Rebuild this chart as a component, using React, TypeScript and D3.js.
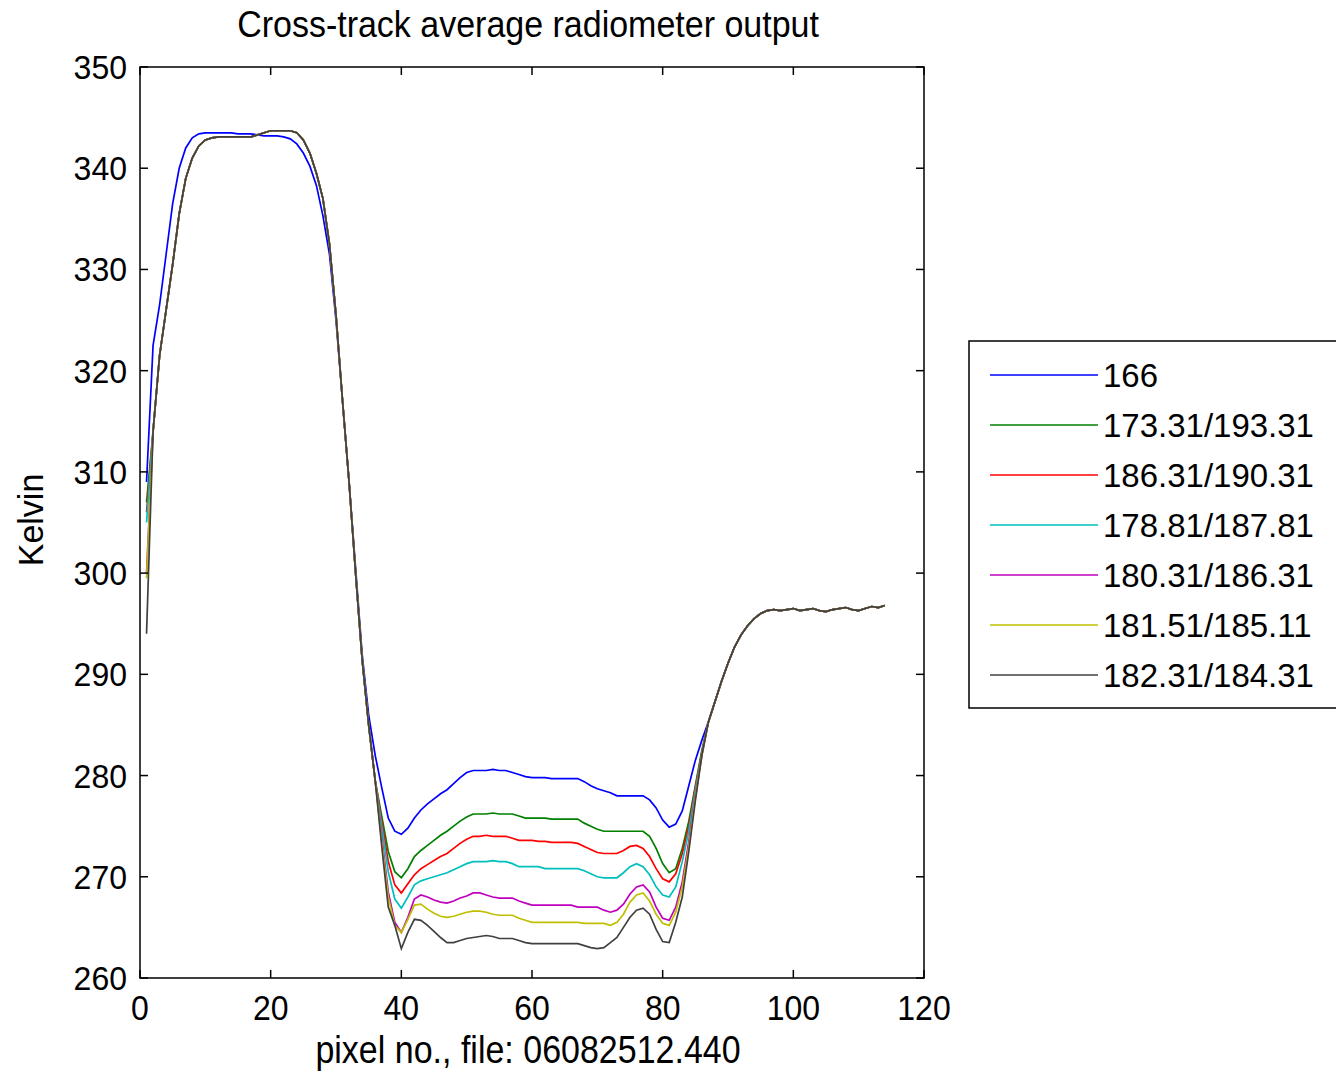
import React from "react";
import * as d3 from "d3";

const W = 1336;
const H = 1076;
const margin = { left: 140, top: 67, right: 1336 - 924, bottom: 1076 - 978 };

const titleText = "Cross-track average radiometer output";
const xLabelText = "pixel no., file: 06082512.440";
const yLabelText = "Kelvin";

const xTicks = [0, 20, 40, 60, 80, 100, 120];
const yTicks = [260, 270, 280, 290, 300, 310, 320, 330, 340, 350];

const seriesNames = [
  "166",
  "173.31/193.31",
  "186.31/190.31",
  "178.81/187.81",
  "180.31/186.31",
  "181.51/185.11",
  "182.31/184.31",
];
const seriesColors = ["#0000ff", "#008000", "#ff0000", "#00bfbf", "#bf00bf", "#bfbf00", "#404040"];

// value at pixel 1, per series
const firstValues = [309, 307, 306, 305, 300, 299.5, 294];

// pixels 2..36, blue series
const leftBlue = [
  322.5, 326.5, 331.5, 336.5, 340, 342, 343, 343.4, 343.5, 343.5, 343.5, 343.5, 343.5, 343.4, 343.4, 343.4,
  343.3, 343.2, 343.2, 343.2, 343.1, 342.9, 342.4, 341.5, 340.2, 338.3, 335.3, 331.5, 325, 317, 309, 300.5,
  292, 286, 282,
];
// pixels 2..36, other series
const leftShared = [
  314, 321.5, 326, 330.5, 335.5, 339, 341, 342.2, 342.8, 343.0, 343.1, 343.1, 343.1, 343.1, 343.1, 343.1,
  343.3, 343.5, 343.7, 343.7, 343.7, 343.7, 343.5, 342.8, 341.5, 339.5, 337, 332.5, 325.5, 317, 309, 300,
  291.5, 285, 279.5,
];

// pixels 37..86, per series
const dipBlue = [
  278.8, 275.8, 274.5, 274.2, 274.8, 275.8, 276.6, 277.2, 277.7, 278.2, 278.6, 279.2, 279.8, 280.3, 280.5,
  280.5, 280.5, 280.6, 280.5, 280.5, 280.3, 280.1, 279.9, 279.8, 279.8, 279.8, 279.7, 279.7, 279.7, 279.7,
  279.7, 279.4, 279.0, 278.7, 278.5, 278.3, 278.0, 278.0, 278.0, 278.0, 278.0, 277.6, 276.8, 275.6, 274.9,
  275.2, 276.5, 279, 281.5, 283.5,
];
const dipGreen = [
  276, 272.5, 270.5, 269.9, 270.8, 272.0, 272.6, 273.1, 273.6, 274.1, 274.5, 275.0, 275.5, 275.9, 276.2,
  276.2, 276.2, 276.3, 276.2, 276.2, 276.2, 276.0, 275.8, 275.8, 275.8, 275.8, 275.7, 275.7, 275.7, 275.7,
  275.7, 275.3, 275.0, 274.7, 274.5, 274.5, 274.5, 274.5, 274.5, 274.5, 274.5, 274.0, 272.8, 271.3, 270.4,
  270.8, 272.8, 275.5, 279, 282.5,
];
const dipRed = [
  275.5, 271.5, 269.2, 268.4, 269.3, 270.2, 270.8, 271.2, 271.6, 272.0, 272.3, 272.8, 273.3, 273.7, 274.0,
  274.0, 274.1, 274.0, 274.0, 274.0, 273.8, 273.6, 273.6, 273.6, 273.5, 273.5, 273.4, 273.4, 273.4, 273.4,
  273.3, 273.0, 272.7, 272.4, 272.3, 272.3, 272.3, 272.6, 273.0, 273.1, 272.8, 272.0, 270.8, 269.8, 269.5,
  270.3, 272.3, 275, 278.8, 282.3,
];
const dipCyan = [
  275, 270.5, 267.8, 266.9, 268.0, 269.2, 269.6, 269.8, 270.0, 270.2, 270.4, 270.7, 271.0, 271.3, 271.5,
  271.5, 271.5, 271.6, 271.5, 271.5, 271.3, 271.0, 271.0, 271.0, 271.0, 270.8, 270.8, 270.8, 270.8, 270.8,
  270.8, 270.6, 270.3, 270.0, 269.9, 269.9, 269.9, 270.4, 271.0, 271.3, 271.0, 270.2, 269.0, 268.2, 268.0,
  269.0, 271.5, 274.5, 278.5, 282.2,
];
const dipMagenta = [
  274, 268.5, 265.5, 264.5, 266.0, 267.8, 268.2, 268.0, 267.7, 267.5, 267.4, 267.6, 267.9, 268.1, 268.4,
  268.4, 268.2, 268.0, 267.9, 267.9, 267.9, 267.6, 267.4, 267.2, 267.2, 267.2, 267.2, 267.2, 267.2, 267.2,
  267.0, 267.0, 267.0, 267.0, 266.7, 266.5, 266.7, 267.3, 268.3, 269.0, 269.2, 268.5, 267.0, 265.9, 265.7,
  267.0, 269.5, 273.5, 278, 282,
];
const dipYellow = [
  273.5, 268, 265.2, 264.5, 265.8, 267.2, 267.3, 266.8, 266.4, 266.1, 266.0, 266.1, 266.3, 266.5, 266.6,
  266.6, 266.5, 266.3, 266.2, 266.2, 266.2, 265.9, 265.7, 265.5, 265.5, 265.5, 265.5, 265.5, 265.5, 265.5,
  265.5, 265.4, 265.4, 265.4, 265.4, 265.2, 265.5, 266.3, 267.5, 268.2, 268.4, 267.6, 266.3, 265.4, 265.2,
  266.5, 269, 273, 277.8, 282,
];
const dipGray = [
  273, 267, 265.2, 262.9, 264.5, 265.8, 265.7, 265.2, 264.6, 264.0, 263.5, 263.5, 263.7, 263.9, 264.0,
  264.1, 264.2, 264.1, 263.9, 263.9, 263.9, 263.7, 263.5, 263.4, 263.4, 263.4, 263.4, 263.4, 263.4, 263.4,
  263.4, 263.2, 263.0, 262.9, 263.0, 263.5, 264.0, 265.0, 266.0, 266.7, 266.9, 266.3, 264.8, 263.6, 263.5,
  265.5, 268, 272.5, 277.5, 282,
];

// pixels 87..114, all series
const rightShared = [
  285.3, 287.3, 289.3, 291.1, 292.7, 293.9, 294.8, 295.5, 296.0, 296.3, 296.4, 296.3, 296.4, 296.5, 296.3,
  296.4, 296.5, 296.3, 296.2, 296.4, 296.5, 296.6, 296.4, 296.3, 296.5, 296.7, 296.6, 296.8,
];

const dips = [dipBlue, dipGreen, dipRed, dipCyan, dipMagenta, dipYellow, dipGray];

const seriesValues: number[][] = dips.map((dip, i) => [
  firstValues[i],
  ...(i === 0 ? leftBlue : leftShared),
  ...dip,
  ...rightShared,
]);

const FONT = "'Liberation Sans', Arial, sans-serif";

function SText(props: {
  x: number;
  y: number;
  size: number;
  sy: number;
  anchor?: string;
  rotate?: number;
  children: React.ReactNode;
}) {
  const { x, y, size, sy, anchor = "start", rotate = 0, children } = props;
  return (
    <text
      transform={`translate(${x},${y}) rotate(${rotate}) scale(1,${sy})`}
      fontSize={size}
      textAnchor={anchor}
      fill="#000"
    >
      {children}
    </text>
  );
}

export default function App() {
  const x = d3.scaleLinear().domain([0, 120]).range([margin.left, W - margin.right]);
  const y = d3.scaleLinear().domain([260, 350]).range([H - margin.bottom, margin.top]);
  const line = d3
    .line<number>()
    .x((_, i) => x(i + 1))
    .y((d) => y(d));

  const x0 = x(0), x1 = x(120), y0 = y(260), y1 = y(350);
  const tl = 8;

  const legendX = 969, legendY = 341, legendW = 400, legendH = 367;

  return (
    <svg width={W} height={H} style={{ position: "absolute", left: 0, top: 0, display: "block", background: "#fff" }} fontFamily={FONT}>
      <rect x={0} y={0} width={W} height={H} fill="#fff" />
      {seriesValues.map((vals, i) => (
        <path key={i} d={line(vals) || ""} fill="none" stroke={seriesColors[i]} strokeWidth={1.7} />
      ))}
      <rect x={x0} y={y1} width={x1 - x0} height={y0 - y1} fill="none" stroke="#000" strokeWidth={1.5} />
      {xTicks.map((t) => (
        <g key={"xt" + t}>
          <line x1={x(t)} x2={x(t)} y1={y0} y2={y0 - tl} stroke="#000" strokeWidth={1.5} />
          <line x1={x(t)} x2={x(t)} y1={y1} y2={y1 + tl} stroke="#000" strokeWidth={1.5} />
          <SText x={x(t)} y={1020} size={32} sy={1.09} anchor="middle">{t}</SText>
        </g>
      ))}
      {yTicks.map((t) => (
        <g key={"yt" + t}>
          <line x1={x0} x2={x0 + tl} y1={y(t)} y2={y(t)} stroke="#000" strokeWidth={1.5} />
          <line x1={x1} x2={x1 - tl} y1={y(t)} y2={y(t)} stroke="#000" strokeWidth={1.5} />
          <SText x={x0 - 13} y={y(t) + 12} size={32} sy={1.06} anchor="end">{t}</SText>
        </g>
      ))}
      <SText x={528} y={37} size={34} sy={1.06} anchor="middle">{titleText}</SText>
      <SText x={528} y={1063} size={34} sy={1.15} anchor="middle">{xLabelText}</SText>
      <SText x={43} y={520} size={34} sy={1.05} anchor="middle" rotate={-90}>{yLabelText}</SText>

      <rect x={legendX} y={legendY} width={legendW} height={legendH} fill="#fff" stroke="#000" strokeWidth={1.5} />
      {seriesNames.map((name, i) => {
        const ly = 375 + i * 50;
        return (
          <g key={name}>
            <line x1={990} x2={1098} y1={ly} y2={ly} stroke={seriesColors[i]} strokeWidth={1.7} />
            <SText x={1103} y={ly + 12} size={33} sy={1.03}>{name}</SText>
          </g>
        );
      })}
    </svg>
  );
}
